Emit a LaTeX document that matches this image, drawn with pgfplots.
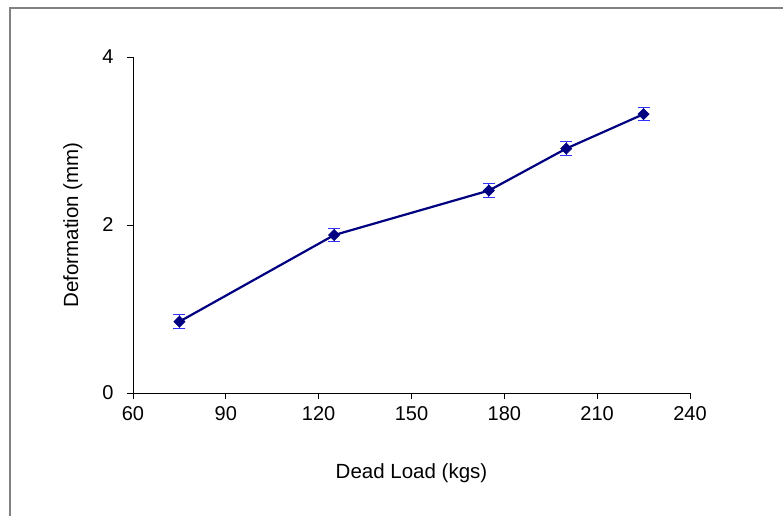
\documentclass[border=0pt]{standalone}
\usepackage{pgfplots}
\pgfplotsset{compat=1.18}
\usepackage{fontspec}
\setmainfont{Liberation Sans}
\definecolor{navyline}{RGB}{0,0,128}
\definecolor{errblue}{RGB}{50,50,255}
\definecolor{framegray}{RGB}{130,130,130}
\begin{document}
\begin{tikzpicture}
\useasboundingbox (0,0) rectangle (783pt,515pt);
\begin{scope}
\clip (0,0) rectangle (783pt,515pt);
\draw[framegray, line width=1.3pt] (10pt,-20pt) |- (820pt,507pt);
\end{scope}
\begin{axis}[
  at={(133pt,122pt)}, anchor=south west,
  scale only axis, width=557pt, height=336pt,
  xmin=60, xmax=240, ymin=0, ymax=4,
  axis lines*=left,
  axis line style={black, line width=0.8pt},
  xtick={60,90,...,240}, ytick={0,2,4},
  tick align=outside, major tick length=6pt,
  tick style={black, line width=0.8pt},
  /pgf/number format/assume math mode=true,
  ticklabel style={font=\fontsize{20}{24}\selectfont},
  xticklabel style={yshift=-4pt},
  yticklabel style={xshift=-10pt},
  label style={font=\fontsize{20.5}{24}\selectfont},
  xlabel={Dead Load (kgs)},
  ylabel={Deformation (mm)},
  xlabel style={at={(axis description cs:0.5,0)}, anchor=base, yshift=-85pt},
  ylabel style={at={(axis description cs:0,0.5)}, anchor=south, yshift=47pt},
  clip=false,
]
\addplot[color=navyline, line width=2.2pt,
  mark=square*, mark size=4pt,
  mark options={rotate=45, fill=navyline, draw=navyline, line width=0.5pt},
  error bars/.cd, y dir=both, y explicit,
  error bar style={color=errblue, line width=1pt},
  error mark options={errblue, line width=1pt, mark size=6pt, rotate=90}]
  table[x=x, y=y, y error=e] {
x y e
75 0.85 0.08
125 1.88 0.08
175 2.41 0.08
200 2.91 0.08
225 3.32 0.08
};
\end{axis}
\end{tikzpicture}
\end{document}
